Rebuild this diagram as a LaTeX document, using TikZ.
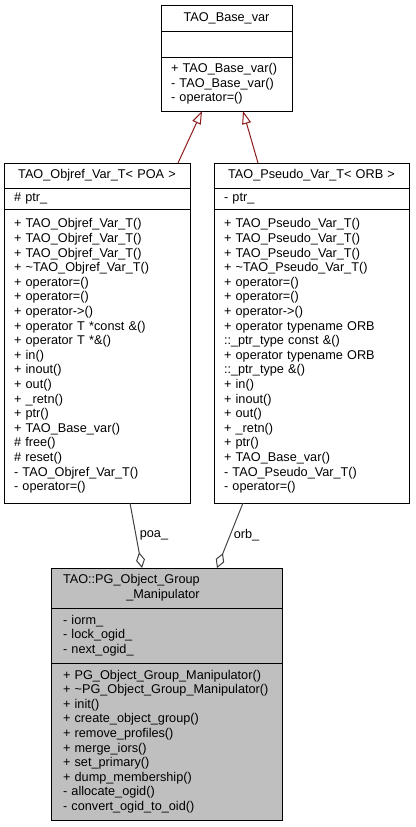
\documentclass[tikz,border=0pt]{standalone}
\usepackage{fontspec}
\setmainfont{Liberation Sans}
\usepackage{xcolor}
\usepackage{tikz}
\usetikzlibrary{positioning, arrows.meta}

\definecolor{inheritred}{HTML}{8B1A1A}
\definecolor{aggrgray}{HTML}{404040}
\definecolor{classgray}{HTML}{BFBFBF}

\begin{document}
\begin{tikzpicture}[x=1pt, y=-1pt,
    classpart/.style={draw=black, line width=1pt, inner xsep=10pt, inner ysep=0pt, outer sep=0pt,
      font=\fontsize{12.7}{14.6}\selectfont, align=left},
    classtitle/.style={classpart, align=center},
    grppart/.style={classpart, fill=classgray, inner xsep=12pt, text width=207pt},
    inherit/.style={draw=inheritred, line width=1pt, -{Triangle[open, length=13pt, width=9pt]}},
    aggr/.style={draw=aggrgray, line width=1pt, -{Diamond[open, length=16pt, width=9pt]}},
    edgelabel/.style={font=\fontsize{12.7}{14.6}\selectfont, text=black}]
    \useasboundingbox (0,0) rectangle (415,827);

    % base class
    \node [classtitle, text width=111pt, minimum height=26pt, anchor=north] (baseT) at (226.5,5) {TAO\_Base\_var};
    \node [classpart, text width=111pt, minimum height=26pt, below=0pt of baseT] (baseA) {};
    \node [classpart, text width=111pt, minimum height=54pt, below=0pt of baseA] (baseM) {+ TAO\_Base\_var()\\- TAO\_Base\_var()\\- operator=()};

    % TAO_Objref_Var_T< POA >
    \node [classtitle, text width=166pt, minimum height=25pt, anchor=north] (objT) at (97,163) {TAO\_Objref\_Var\_T< POA >};
    \node [classpart, text width=166pt, minimum height=21pt, below=0pt of objT] (objA) {\# ptr\_};
    \node [classpart, text width=166pt, minimum height=294pt, below=0pt of objA] (objM) {+ TAO\_Objref\_Var\_T()\\+ TAO\_Objref\_Var\_T()\\+ TAO\_Objref\_Var\_T()\\+ \textasciitilde TAO\_Objref\_Var\_T()\\+ operator=()\\+ operator=()\\+ operator->()\\+ operator T *const \&()\\+ operator T *\&()\\+ in()\\+ inout()\\+ out()\\+ \_retn()\\+ ptr()\\+ TAO\_Base\_var()\\\# free()\\\# reset()\\- TAO\_Objref\_Var\_T()\\- operator=()};

    % TAO_Pseudo_Var_T< ORB >
    \node [classtitle, text width=175pt, minimum height=25pt, anchor=north] (pseuT) at (311.5,163) {TAO\_Pseudo\_Var\_T< ORB >};
    \node [classpart, text width=175pt, minimum height=21pt, below=0pt of pseuT] (pseuA) {- ptr\_};
    \node [classpart, text width=175pt, minimum height=294pt, below=0pt of pseuA] (pseuM) {+ TAO\_Pseudo\_Var\_T()\\+ TAO\_Pseudo\_Var\_T()\\+ TAO\_Pseudo\_Var\_T()\\+ \textasciitilde TAO\_Pseudo\_Var\_T()\\+ operator=()\\+ operator=()\\+ operator->()\\+ operator typename ORB\\::\_ptr\_type const \&()\\+ operator typename ORB\\::\_ptr\_type \&()\\+ in()\\+ inout()\\+ out()\\+ \_retn()\\+ ptr()\\+ TAO\_Base\_var()\\- TAO\_Pseudo\_Var\_T()\\- operator=()};

    % TAO::PG_Object_Group_Manipulator
    \node [grppart, minimum height=40pt, anchor=north] (grpT) at (166.5,568) {\begin{tabular}{@{}r@{}}TAO::PG\_Object\_Group\\\_Manipulator\end{tabular}};
    \node [grppart, minimum height=55pt, below=0pt of grpT] (grpA) {- iorm\_\\- lock\_ogid\_\\- next\_ogid\_};
    \node [grppart, minimum height=157pt, below=0pt of grpA] (grpM) {+ PG\_Object\_Group\_Manipulator()\\+ \textasciitilde PG\_Object\_Group\_Manipulator()\\+ init()\\+ create\_object\_group()\\+ remove\_profiles()\\+ merge\_iors()\\+ set\_primary()\\+ dump\_membership()\\- allocate\_ogid()\\- convert\_ogid\_to\_oid()};

    % edges
    \draw [inherit] ([xshift=-12pt]objT.north east) -- ([xshift=-24.5pt]baseM.south);
    \draw [inherit] ([xshift=44pt]pseuT.north west) -- ([xshift=16.5pt]baseM.south);
    \draw [aggr] ([xshift=126pt]objM.south west) -- node [edgelabel, right, pos=.5] {poa\_} ([xshift=-24.5pt]grpT.north);
    \draw [aggr] ([xshift=29pt]pseuM.south west) -- node [edgelabel, right, pos=.5] {orb\_} ([xshift=50.5pt]grpT.north);
\end{tikzpicture}
\end{document}
